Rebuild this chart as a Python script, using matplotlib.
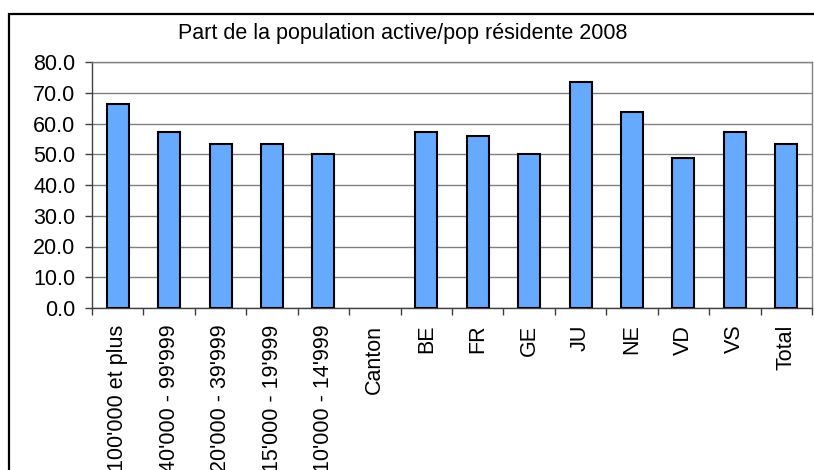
import matplotlib

matplotlib.use("Agg")
import matplotlib.pyplot as plt
from matplotlib.patches import Rectangle

categories = [
    "100'000 et plus", "40'000 - 99'999", "20'000 - 39'999", "15'000 - 19'999",
    "10'000 - 14'999", "Canton", "BE", "FR", "GE", "JU", "NE", "VD", "VS", "Total",
]
# Canton has no value in the source chart
values = [66.3, 57.2, 53.3, 53.3, 50.1, float("nan"), 57.2, 55.9, 50.1, 73.6, 63.7, 48.8, 57.2, 53.3]
yticks = [0, 10, 20, 30, 40, 50, 60, 70, 80]
title = "Part de la population active/pop résidente 2008"

plt.rcParams["font.family"] = ["Liberation Sans", "DejaVu Sans"]

W, H = 814, 470
fs = 15.5
fig = plt.figure(figsize=(W / 100, H / 100), dpi=100)

# outer chart frame (cut off on the right and bottom)
frame = Rectangle((9 / W, -0.1), 1.2, 1.1 - 14 / H, transform=fig.transFigure,
                  fill=False, edgecolor="black", linewidth=1.6, clip_on=False)
fig.patches.append(frame)

ax = fig.add_axes([92 / W, 1 - 308 / H, 720 / W, 246 / H])
x = list(range(len(categories)))
ax.bar(x, values, width=0.43, color="#66AAFF", edgecolor="black", linewidth=1.5, zorder=3)

ax.set_xlim(-0.5, len(categories) - 0.5)
ax.set_ylim(0, 80)
ax.set_yticks(yticks)
ax.set_yticklabels([f"{v:.1f}" for v in yticks], fontsize=fs)
ax.set_xticks(x)
ax.set_xticklabels(categories, rotation=90, fontsize=fs, va="top")
ax.set_xticks([i - 0.5 for i in range(len(categories) + 1)], minor=True)
ax.tick_params(axis="x", which="major", length=0, pad=12)
ax.tick_params(axis="x", which="minor", length=5, width=1, color="#404040", direction="out")
ax.tick_params(axis="y", length=5, width=1, color="#404040", pad=7)

ax.grid(axis="y", color="#808080", linewidth=1, zorder=0)
ax.set_axisbelow(True)
for side in ["left", "bottom"]:
    ax.spines[side].set_color("#404040")
    ax.spines[side].set_linewidth(1)
for side in ["top", "right"]:
    ax.spines[side].set_color("#808080")
    ax.spines[side].set_linewidth(1)

fig.text(403 / W, 1 - 33 / H, title, ha="center", va="center", fontsize=fs)

fig.savefig("out.png", dpi=100)
